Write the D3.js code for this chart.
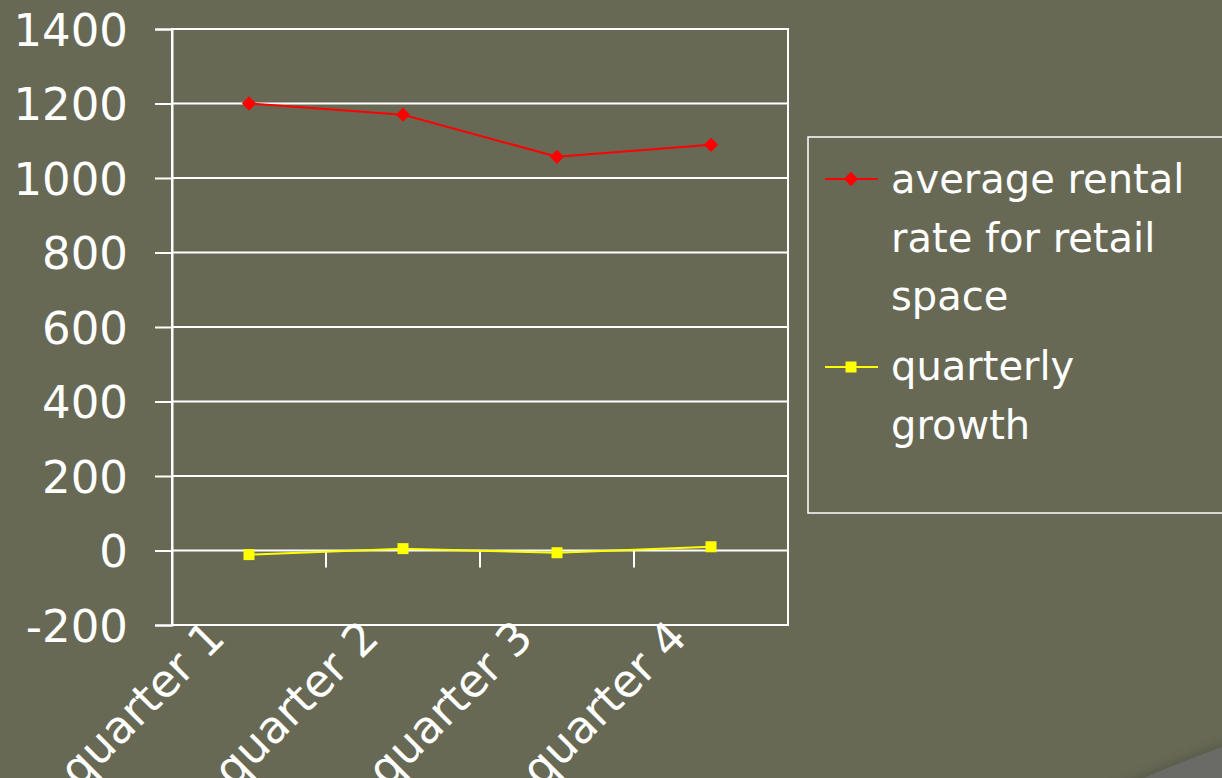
<!DOCTYPE html>
<html>
<head>
<meta charset="utf-8">
<script src="https://cdn.jsdelivr.net/npm/d3@7"></script>
<style>
  html, body { margin: 0; padding: 0; background: #676955; overflow: hidden; }
  svg { display: block; }
</style>
</head>
<body>
<svg id="chart" width="1222" height="778"></svg>
<script>
// Quarterly retail rental figures
const categories = ["quarter 1", "quarter 2", "quarter 3", "quarter 4"];
const rentalRate = [1200, 1170, 1057, 1089];
const quarterlyGrowth = [-11, 5, -6, 10];
const yTicks = [-200, 0, 200, 400, 600, 800, 1000, 1200, 1400];
const legendLines = [["average rental", "rate for retail", "space"], ["quarterly", "growth"]];

const plot = { left: 172, right: 788, top: 29, bottom: 625 };
const font = "'DejaVu Sans', Verdana, sans-serif";

const svg = d3.select("#chart");

// Slide decoration in the lower right corner
const defs = svg.append("defs");
const shadow = defs.append("filter").attr("id", "soft").attr("x", "-20%").attr("y", "-50%").attr("width", "140%").attr("height", "200%");
shadow.append("feGaussianBlur").attr("stdDeviation", 4);
svg.append("path")
  .attr("d", "M1105,790 Q1165,764 1235,738 L1235,790 Z")
  .attr("fill", "#4f5242").attr("opacity", 0.6).attr("filter", "url(#soft)");
svg.append("path")
  .attr("d", "M1115,790 Q1170,766 1235,742 L1235,790 Z")
  .attr("fill", "#6a6a66");

const x = d3.scaleBand().domain(categories).range([plot.left, plot.right]).paddingInner(0).paddingOuter(0);
const y = d3.scaleLinear().domain([-200, 1400]).range([plot.bottom, plot.top]);
const cx = c => x(c) + x.bandwidth() / 2;

// Horizontal gridlines
svg.append("g").selectAll("line").data(yTicks).join("line")
  .attr("x1", plot.left).attr("x2", plot.right)
  .attr("y1", d => y(d)).attr("y2", d => y(d))
  .attr("stroke", "#ffffff").attr("stroke-width", 2);

// Plot frame
svg.append("rect")
  .attr("x", plot.left).attr("y", plot.top)
  .attr("width", plot.right - plot.left).attr("height", plot.bottom - plot.top)
  .attr("fill", "none").attr("stroke", "#ffffff").attr("stroke-width", 2);

// Value axis (plain hyphen for negatives)
const yAxis = d3.axisLeft(y).tickValues(yTicks).tickSize(17).tickPadding(27).tickFormat(d => String(d));
const gy = svg.append("g").attr("transform", `translate(${plot.left},0)`).call(yAxis);
gy.select(".domain").attr("stroke", "#ffffff").attr("stroke-width", 2);
gy.selectAll(".tick line").attr("stroke", "#ffffff").attr("stroke-width", 2);
gy.selectAll(".tick text")
  .attr("fill", "#ffffff").style("font-family", font).style("font-size", "45px")
  .attr("dy", "0.36em");

// Category axis crossing at zero, with tick marks between categories
const boundaries = categories.map(c => x(c) + x.bandwidth());
svg.append("g").selectAll("line").data(boundaries).join("line")
  .attr("x1", d => d).attr("x2", d => d)
  .attr("y1", y(0)).attr("y2", y(0) + 17)
  .attr("stroke", "#ffffff").attr("stroke-width", 2);

// Rotated category labels
svg.append("g").selectAll("text").data(categories).join("text")
  .attr("transform", c => `translate(${cx(c) - 22},${plot.bottom + 15}) rotate(-45)`)
  .attr("text-anchor", "end")
  .attr("fill", "#ffffff")
  .style("font-family", font).style("font-size", "45px")
  .text(c => c);

// Series lines and markers
const line = d3.line().x(d => cx(d.c)).y(d => y(d.v));
const rentalData = categories.map((c, i) => ({ c, v: rentalRate[i] }));
const growthData = categories.map((c, i) => ({ c, v: quarterlyGrowth[i] }));

svg.append("path").datum(growthData).attr("d", line)
  .attr("fill", "none").attr("stroke", "#ffff00").attr("stroke-width", 2);
svg.append("g").selectAll("rect").data(growthData).join("rect")
  .attr("x", d => cx(d.c) - 5.5).attr("y", d => y(d.v) - 5.5)
  .attr("width", 11).attr("height", 11).attr("fill", "#ffff00");

svg.append("path").datum(rentalData).attr("d", line)
  .attr("fill", "none").attr("stroke", "#ff0000").attr("stroke-width", 2);
const diamond = d3.symbol().type(d3.symbolDiamond2).size(130);
svg.append("g").selectAll("path").data(rentalData).join("path")
  .attr("transform", d => `translate(${cx(d.c)},${y(d.v)})`)
  .attr("d", diamond).attr("fill", "#ff0000");

// Legend
const legend = svg.append("g");
legend.append("rect")
  .attr("x", 808).attr("y", 137).attr("width", 430).attr("height", 376)
  .attr("fill", "none").attr("stroke", "#ffffff").attr("stroke-width", 1.5);

const legendItems = [
  { color: "#ff0000", shape: "diamond", symY: 179, lines: legendLines[0], base: [193, 252, 310] },
  { color: "#ffff00", shape: "square", symY: 367, lines: legendLines[1], base: [380, 439] }
];
legendItems.forEach(item => {
  legend.append("line")
    .attr("x1", 825).attr("x2", 878).attr("y1", item.symY).attr("y2", item.symY)
    .attr("stroke", item.color).attr("stroke-width", 2);
  if (item.shape === "diamond") {
    legend.append("path").attr("transform", `translate(851,${item.symY})`)
      .attr("d", diamond).attr("fill", item.color);
  } else {
    legend.append("rect").attr("x", 845.5).attr("y", item.symY - 5.5)
      .attr("width", 11).attr("height", 11).attr("fill", item.color);
  }
  item.lines.forEach((t, i) => {
    legend.append("text")
      .attr("x", 891).attr("y", item.base[i])
      .attr("fill", "#ffffff")
      .style("font-family", font).style("font-size", "40px")
      .text(t);
  });
});
</script>
</body>
</html>
